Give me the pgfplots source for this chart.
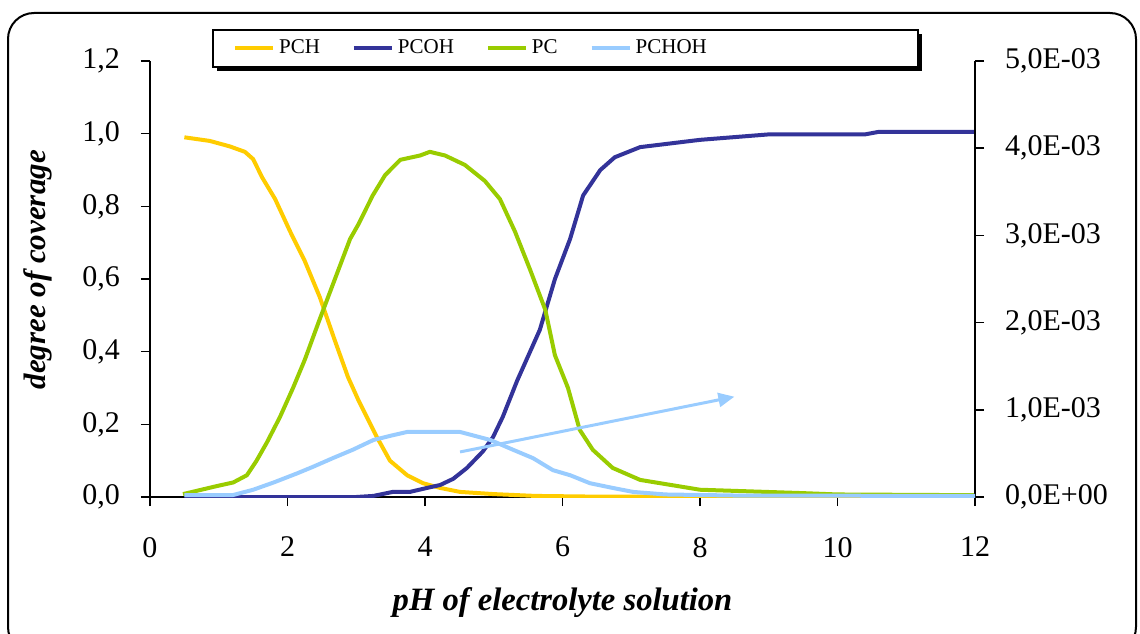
\documentclass[border=0pt]{standalone}
\usepackage{pgfplots}
\pgfplotsset{compat=1.18}
\usepackage{fontspec}
\setmainfont{Liberation Serif}
\usetikzlibrary{arrows.meta}
\definecolor{cPCH}{HTML}{FFCC00}
\definecolor{cPCOH}{HTML}{333399}
\definecolor{cPC}{HTML}{99CC00}
\definecolor{cPCHOH}{HTML}{99CCFF}
\begin{document}
\begin{tikzpicture}[x=1pt,y=1pt]
\useasboundingbox (0pt,0pt) rectangle (570pt,316.5pt);
% outer frame
\draw[line width=1pt, rounded corners=13pt] (4pt,-10pt) rectangle (568pt,310pt);
% legend box with shadow
\fill[black] (108.5pt,281pt) rectangle (461pt,299.5pt);
\draw[line width=0.9pt, fill=white] (106.5pt,283pt) rectangle (459pt,301.5pt);
\begin{axis}[
  at={(75pt,68pt)}, anchor=south west,
  scale only axis, width=412.5pt, height=218pt,
  xmin=0, xmax=12, ymin=0, ymax=1.2,
  axis x line*=bottom, axis y line*=left,
  axis line style={line width=0.8pt},
  tick style={black, line width=0.8pt},
  tick align=outside, major tick length=4.5pt,
  xtick={0,2,...,12}, ytick={0,0.2,...,1.2},
  /pgf/number format/assume math mode=true,
  tick label style={font=\fontsize{15}{18}\selectfont},
  xticklabel style={yshift=-12pt},
  yticklabel style={xshift=-7pt, /pgf/number format/.cd, use comma, fixed, fixed zerofill, precision=1},
  xlabel={\textbf{\textit{pH of electrolyte solution}}},
  ylabel={\textbf{\textit{degree of coverage}}},
  label style={font=\fontsize{15.5}{18}\selectfont},
  xlabel style={at={([yshift=-53pt]axis description cs:0.5,0)}, anchor=center, font=\fontsize{16.3}{19}\selectfont},
  ylabel style={at={([xshift=-56pt]axis description cs:0,0.521)}, anchor=center, rotate=0},
  legend style={draw=none, fill=none, at={(axis description cs:0.093,1.0287)}, anchor=west,
    legend columns=4, font=\fontsize{10.5}{12}\selectfont,
    /tikz/every even column/.append style={column sep=14pt}},
  legend image code/.code={\draw[#1, line width=2pt] (0pt,0pt) -- (19pt,0pt);},
  every axis plot/.append style={line width=2pt, line join=round},
]
\addplot[cPCH] coordinates {
(0.5,0.99)(0.87,0.98)(1.16,0.965)(1.38,0.95)(1.5,0.93)(1.63,0.88)(1.82,0.82)
(2.04,0.73)(2.25,0.65)(2.47,0.55)(2.69,0.43)(2.88,0.33)(3.03,0.267)(3.3,0.165)
(3.49,0.10)(3.74,0.06)(3.97,0.038)(4.22,0.025)(4.51,0.014)(5.0,0.008)(5.6,0.003)
(6.5,0.001)(8,0.0005)(12,0.0003)};
\addlegendentry{PCH}
\addplot[cPCOH] coordinates {
(0.5,0.0)(2,0.0)(3.0,0.0)(3.25,0.003)(3.53,0.014)(3.78,0.014)(4.03,0.025)(4.22,0.033)
(4.41,0.05)(4.61,0.08)(4.84,0.125)(4.99,0.165)(5.13,0.22)(5.34,0.32)(5.67,0.46)
(5.89,0.6)(6.11,0.71)(6.3,0.83)(6.55,0.9)(6.76,0.935)(7.13,0.963)(8.0,0.983)
(9.0,0.998)(10.4,0.998)(10.6,1.005)(12,1.005)};
\addlegendentry{PCOH}
\addplot[cPC] coordinates {
(0.48,0.008)(0.97,0.03)(1.21,0.04)(1.41,0.06)(1.55,0.10)(1.70,0.15)(1.89,0.22)
(2.08,0.30)(2.25,0.377)(2.47,0.49)(2.69,0.6)(2.91,0.71)(3.03,0.75)(3.24,0.83)
(3.42,0.886)(3.64,0.928)(3.93,0.94)(4.07,0.95)(4.29,0.94)(4.58,0.914)(4.87,0.87)
(5.09,0.82)(5.31,0.73)(5.53,0.625)(5.75,0.515)(5.89,0.39)(6.08,0.30)(6.25,0.185)
(6.44,0.13)(6.73,0.08)(7.13,0.047)(8.0,0.02)(9.45,0.011)(10.0,0.007)(12,0.005)};
\addlegendentry{PC}
\addlegendimage{cPCHOH}
\addlegendentry{PCHOH}
\draw[cPCHOH, line width=1.5pt, -{Triangle[length=8pt,width=7pt]}] (axis cs:4.51,0.124) -- (axis cs:8.5,0.276);
\end{axis}
\begin{axis}[
  at={(75pt,68pt)}, anchor=south west,
  scale only axis, width=412.5pt, height=218pt,
  xmin=0, xmax=12, ymin=0, ymax=0.005,
  axis x line=none, axis y line*=right,
  axis line style={line width=0.8pt},
  tick style={black, line width=0.8pt},
  tick align=outside, major tick length=4.5pt,
  ytick={0,0.001,0.002,0.003,0.004,0.005},
  yticklabels={{0,0E+00},{1,0E-03},{2,0E-03},{3,0E-03},{4,0E-03},{5,0E-03}},
  scaled y ticks=false,
  tick label style={font=\fontsize{15}{18}\selectfont},
  yticklabel style={xshift=7pt},
  every axis plot/.append style={line width=2pt, line join=round},
]
\addplot[cPCHOH] coordinates {
(0.5,0.000021)(1.2,0.000021)(1.5,0.000083)(1.8,0.000167)(2.14,0.000271)(2.37,0.000346)
(2.66,0.000446)(2.95,0.000542)(3.25,0.000654)(3.53,0.000708)(3.74,0.000746)(4.51,0.000746)
(4.95,0.000654)(5.28,0.000542)(5.57,0.000446)(5.86,0.000308)(6.11,0.00025)(6.4,0.000158)
(6.73,0.000104)(7.03,0.000058)(7.5,0.000029)(8.5,0.000017)(12,0.000012)};
\end{axis}
\end{tikzpicture}
\end{document}
